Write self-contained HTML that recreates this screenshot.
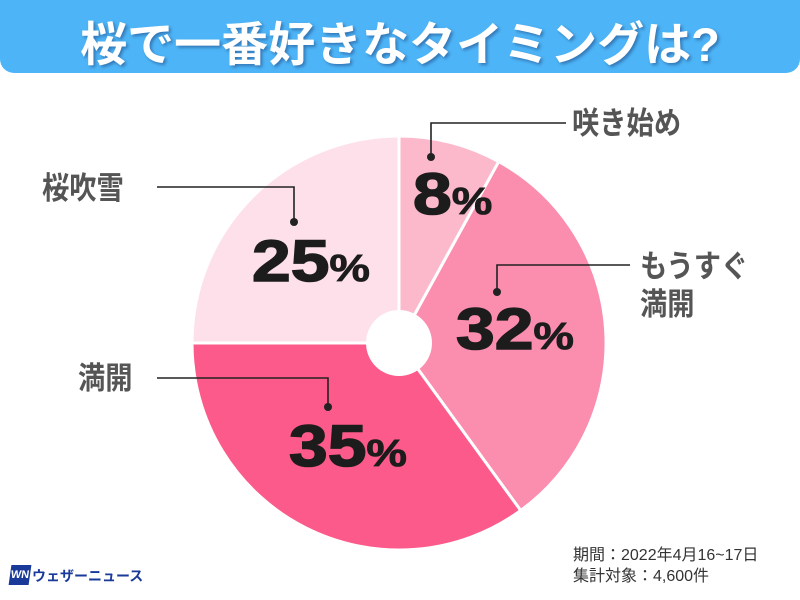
<!DOCTYPE html>
<html><head><meta charset="utf-8"><style>
html,body{margin:0;padding:0;background:#fff;}
body{width:800px;height:600px;position:relative;overflow:hidden;font-family:"Liberation Sans","Noto Sans CJK JP",sans-serif;}
.banner{position:absolute;left:0;top:0;width:800px;height:73px;background:#4db5f7;border-radius:0 0 14px 14px;}
.title{position:absolute;left:0;top:6px;width:800px;text-align:center;color:#fff;font-weight:700;font-size:47px;letter-spacing:0px;text-shadow:2px 2px 3px rgba(0,0,60,0.35);}
.lab{position:absolute;color:#555;font-weight:700;font-size:31px;line-height:38px;white-space:nowrap;transform:scaleX(0.88);transform-origin:left top;}
.num{position:absolute;color:#1c1c1c;font-family:"Liberation Sans",sans-serif;font-weight:700;font-size:58px;line-height:58px;white-space:nowrap;transform:scaleX(1.2);transform-origin:left top;-webkit-text-stroke:1.5px #1c1c1c;}
.num span{font-size:38px;-webkit-text-stroke:0.8px #1c1c1c;}
.foot{position:absolute;color:#333;font-size:16px;line-height:21px;}
</style></head><body>
<div class="banner"></div>
<div class="title">桜で一番好きなタイミングは?</div>
<svg width="800" height="600" style="position:absolute;left:0;top:0">
<g stroke="#fff" stroke-width="3">
<path d="M399,343 L399,136 A207,207 0 0 1 498.7,161.6 Z" fill="#fcb9cc"/>
<path d="M399,343 L498.7,161.6 A207,207 0 0 1 520.7,510.5 Z" fill="#fb8daf"/>
<path d="M399,343 L520.7,510.5 A207,207 0 0 1 192,343 Z" fill="#fc5a8a"/>
<path d="M399,343 L192,343 A207,207 0 0 1 399,136 Z" fill="#fde0e9"/>
</g>
<circle cx="399" cy="343" r="33" fill="#fff"/>
<g stroke="#222" stroke-width="1.6" fill="none">
<polyline points="566,123 431,123 431,157"/>
<polyline points="630,265 497,265 497,292"/>
<polyline points="157,187 294,187 294,222"/>
<polyline points="157,378 328,378 328,407"/>
</g>
<g fill="#222"><circle cx="431" cy="157" r="4"/><circle cx="497" cy="292" r="4"/><circle cx="294" cy="222" r="4"/><circle cx="328" cy="407" r="4"/></g>
</svg>
<div class="lab" style="left:572px;top:105px">咲き始め</div>
<div class="lab" style="left:640px;top:248px">もうすぐ<br>満開</div>
<div class="lab" style="left:42px;top:170px">桜吹雪</div>
<div class="lab" style="left:78px;top:360px">満開</div>
<div class="num" style="left:413px;top:166px">8<span>%</span></div>
<div class="num" style="left:456px;top:301px">32<span>%</span></div>
<div class="num" style="left:252px;top:233px">25<span>%</span></div>
<div class="num" style="left:289px;top:418px">35<span>%</span></div>
<div style="position:absolute;left:10px;top:565px;width:20px;height:20px;background:#1a3a9a;color:#fff;font-size:11px;font-weight:700;line-height:20px;text-align:center;transform:skewX(-8deg)">WN</div>
<div style="position:absolute;left:32px;top:566px;color:#1a3a9a;font-size:14px;font-weight:700;">ウェザーニュース</div>
<div class="foot" style="left:573px;top:545px">期間：2022年4月16~17日<br>集計対象：4,600件</div>
</body></html>
